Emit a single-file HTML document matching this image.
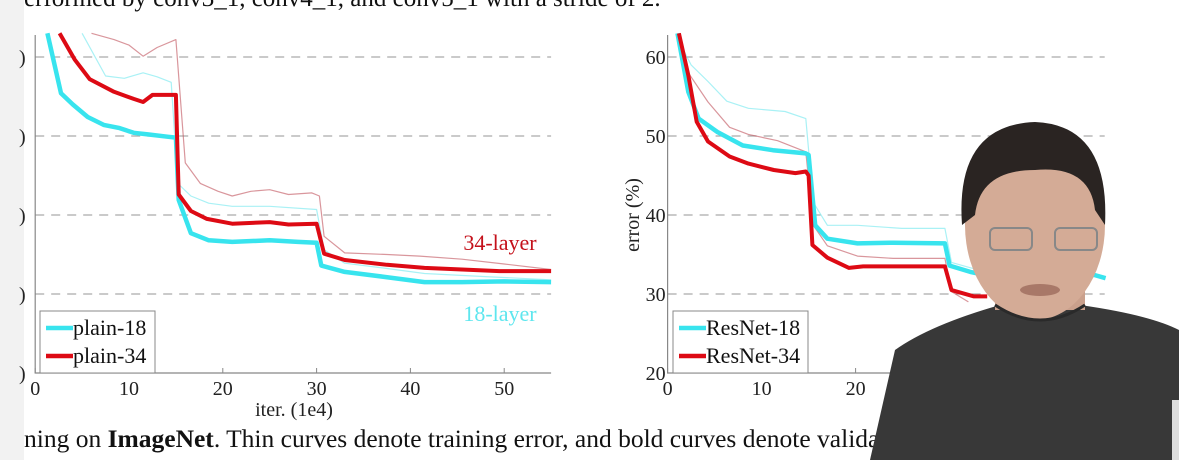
<!DOCTYPE html>
<html><head><meta charset="utf-8"><style>
body{margin:0;width:1179px;height:460px;overflow:hidden;background:#fff;font-family:"Liberation Serif",serif;}
svg{position:absolute;left:0;top:0}
</style></head><body>
<svg width="1179" height="460">
<text x="24" y="6" font-size="25" fill="#111">erformed by conv3_1, conv4_1, and conv5_1 with a stride of 2.</text>
<text x="24" y="447" font-size="25.5" fill="#111">ning on <tspan font-weight="bold">ImageNet</tspan>. Thin curves denote training error, and bold curves denote valida</text>
<g id="left"></g>
<g id="right"></g>
<rect x="0" y="0" width="24" height="460" fill="#f2f2f2"/>
<text x="19" y="64" font-size="20" fill="#222">)</text>
<text x="19" y="143" font-size="20" fill="#222">)</text>
<text x="19" y="222" font-size="20" fill="#222">)</text>
<text x="19" y="301" font-size="20" fill="#222">)</text>
<text x="19" y="380" font-size="20" fill="#222">)</text>
<g id="person">
<path d="M870,460 L895,350 Q930,325 1000,305 L1080,305 Q1150,315 1179,330 L1179,460 Z" fill="#383838"/>
<rect x="995" y="240" width="90" height="70" fill="#caa08c"/>
<ellipse cx="1035" cy="225" rx="70" ry="95" fill="#d4ab96"/>
<path d="M962,225 Q955,125 1035,122 Q1110,125 1105,225 L1095,210 Q1090,165 1035,170 Q980,170 975,215 Z" fill="#2a2422"/>
<rect x="1055" y="228" width="42" height="22" rx="5" fill="none" stroke="#888" stroke-width="2"/>
<rect x="990" y="228" width="42" height="22" rx="5" fill="none" stroke="#888" stroke-width="2"/>
<ellipse cx="1040" cy="290" rx="20" ry="6" fill="#a87868"/>
<path d="M995,305 Q1040,335 1085,305" fill="none" stroke="#2a2a2a" stroke-width="3"/>
<rect x="1172" y="400" width="7" height="60" fill="#ddd"/>
</g>
</svg>
<script>
const NS="http://www.w3.org/2000/svg";
const yTicks=[20,30,40,50,60];
const xTicks=[0,10,20,30,40,50];
const plain18Val=[[1.3,63],[2.75,55.4],[4,54],[5.6,52.4],[7.3,51.4],[9,51],[10.5,50.4],[12,50.2],[14.2,49.9],[15,49.8],[15.3,41.9],[16.6,37.7],[18.5,36.8],[21,36.6],[25,36.8],[28,36.6],[30,36.5],[30.5,33.6],[33,32.8],[37,32.2],[41.5,31.5],[45.5,31.5],[50,31.6],[55,31.5]];
const plain34Val=[[2.6,63],[4.2,59.7],[5.8,57.2],[8.4,55.6],[10.5,54.7],[11.5,54.3],[12.5,55.2],[15,55.2],[15.3,42.6],[16.6,40.5],[18.3,39.5],[21,38.9],[25,39.1],[27,38.8],[30,38.9],[30.8,35.1],[33,34.3],[37.5,33.7],[41.5,33.3],[49.5,32.9],[55,32.9]];
const plain18Train=[[5,63],[7.5,57.6],[9.5,57.3],[11.5,58],[13,57.5],[14.5,56.8],[15.2,44],[16.6,42.4],[18.5,41.5],[21,41.1],[25,41.1],[30,40.7],[30.8,35.6],[33,33.9],[37,33.3],[41.5,32.6],[48,32.2],[55,31.8]];
const plain34Train=[[6,63],[8.4,62.2],[10,61.5],[11.5,60.1],[13,61.2],[15,62.2],[16,46.6],[17.6,44],[19.5,43],[21,42.4],[23,43],[25,43.2],[27,42.6],[29.5,42.8],[30.3,42.4],[30.8,37.3],[33,35.2],[37.5,35],[41,34.8],[45.5,34.4],[50,33.8],[55,33.1]];
const res18Val=[[1.05,63],[2.2,55.6],[3.3,52.2],[5.3,50.5],[8,48.8],[11.2,48.2],[14.7,47.8],[15,47.6],[15.7,38.7],[17,37],[20.2,36.4],[24,36.5],[29.5,36.4],[30,33.6],[32.2,32.8],[33.8,32.4],[40,32.4],[45.4,32.4],[46.6,32.0]];
const res34Val=[[1.2,63],[2.2,57.7],[3.1,51.8],[4.3,49.3],[6.6,47.4],[8.6,46.5],[11.3,45.7],[13.6,45.3],[14.7,45.5],[15,45],[15.4,36.2],[17,34.6],[19.3,33.3],[20.8,33.5],[29.5,33.5],[30.2,30.5],[32.6,29.7],[34,29.7]];
const res18Train=[[1.2,62],[2.5,59],[4.3,56.9],[6.3,54.4],[8.6,53.5],[12.5,53.1],[14.7,52.2],[15.5,41.6],[17,38.7],[20.2,38.7],[24.9,38.3],[29.5,38.3],[30.2,34],[33.8,32.8]];
const res34Train=[[1.3,62],[2.2,58],[4.3,54.3],[6.6,51.1],[8.6,50.2],[11.7,49.4],[14.7,48],[15.5,38.7],[17,36.1],[20.2,34.8],[24,34.5],[29.5,34.5],[30.2,30.3],[32,29]];
function mk(tag,attrs,parent){const e=document.createElementNS(NS,tag);for(const k in attrs)e.setAttribute(k,attrs[k]);parent.appendChild(e);return e;}
function chart(g,x0,pxPer,xMax,yLab,series,legend,legendBox){
 const sx=v=>x0+v*pxPer, sy=v=>373-(v-20)*7.9;
 const right=sx(xMax);
 yTicks.forEach(t=>{ if(t>20){const l=mk('line',{x1:x0,x2:right,y1:sy(t),y2:sy(t),stroke:'#aaa','stroke-width':1.3,'stroke-dasharray':'9,7'},g);
 
 }
 if(yLab){const tx=mk('text',{x:x0-2,y:sy(t)+7,'font-size':20,'text-anchor':'end',fill:'#222'},g);tx.textContent=t;
 
 }});
 const ax=mk('path',{d:`M${x0},35 L${x0},373 L${right},373`,fill:'none',stroke:'#888','stroke-width':1.2},g);
 
 
 xTicks.forEach(t=>{const px=sx(t); if(px>right+1)return;
 mk('line',{x1:px,x2:px,y1:373,y2:368,stroke:'#888'},g);
 const tx=mk('text',{x:px,y:395,'font-size':20,'text-anchor':'middle',fill:'#222'},g);tx.textContent=t;
 
 });
 series.forEach(s=>{const d=s.data.map((p,i)=>(i?'L':'M')+sx(p[0]).toFixed(1)+','+Math.max(30,sy(p[1])).toFixed(1)).join(' ');
 const p=mk('path',{d,fill:'none',stroke:s.c,'stroke-width':s.w,opacity:s.o,'stroke-linejoin':'round'},g);
 
 });
 const lb=mk('rect',{x:legendBox[0],y:legendBox[1],width:legendBox[2],height:62,fill:'#fff',stroke:'#888'},g);
 
 
 legend.forEach((L,i)=>{const y=legendBox[1]+17+i*28;
 mk('line',{x1:legendBox[0]+6,x2:legendBox[0]+33,y1:y,y2:y,stroke:L.c,'stroke-width':4.5},g);
 const tx=mk('text',{x:legendBox[0]+33,y:y+7,'font-size':22,fill:'#111'},g);tx.textContent=L.t;
 
 });
}
const L=document.getElementById('left'),R=document.getElementById('right');
chart(L,35.2,9.38,55,false,[
 {data:plain34Train,c:'#c0505a',w:1.2,o:.6,n:'plain-34-train-line'},
 {data:plain18Train,c:'#70e8ee',w:1.2,o:.6,n:'plain-18-train-line'},
 {data:plain18Val,c:'#38e4ee',w:4.5,o:1,n:'plain-18-val-line'},
 {data:plain34Val,c:'#dd0a14',w:4,o:1,n:'plain-34-val-line'}],
 [{c:'#38e4ee',t:'plain-18'},{c:'#dd0a14',t:'plain-34'}],[40,311,115]);
chart(R,667.6,9.4,46.5,true,[
 {data:res34Train,c:'#c0505a',w:1.2,o:.6,n:'resnet-34-train-line'},
 {data:res18Train,c:'#70e8ee',w:1.2,o:.6,n:'resnet-18-train-line'},
 {data:res18Val,c:'#38e4ee',w:4.5,o:1,n:'resnet-18-val-line'},
 {data:res34Val,c:'#dd0a14',w:4,o:1,n:'resnet-34-val-line'}],
 [{c:'#38e4ee',t:'ResNet-18'},{c:'#dd0a14',t:'ResNet-34'}],[673,311,135]);
let t=mk('text',{x:0,y:0,'font-size':20,'text-anchor':'middle',fill:'#222',transform:'translate(639,215) rotate(-90)'},R);t.textContent='error (%)';


t=mk('text',{x:294,y:416,'font-size':20,'text-anchor':'middle',fill:'#222'},L);t.textContent='iter. (1e4)';


t=mk('text',{x:500,y:250,'font-size':22,'text-anchor':'middle',fill:'#c4101a'},L);t.textContent='34-layer';


t=mk('text',{x:500,y:321,'font-size':22,'text-anchor':'middle',fill:'#5ee6ee'},L);t.textContent='18-layer';


document.querySelector('svg').appendChild(document.getElementById('person'));
</script>
</body></html>
